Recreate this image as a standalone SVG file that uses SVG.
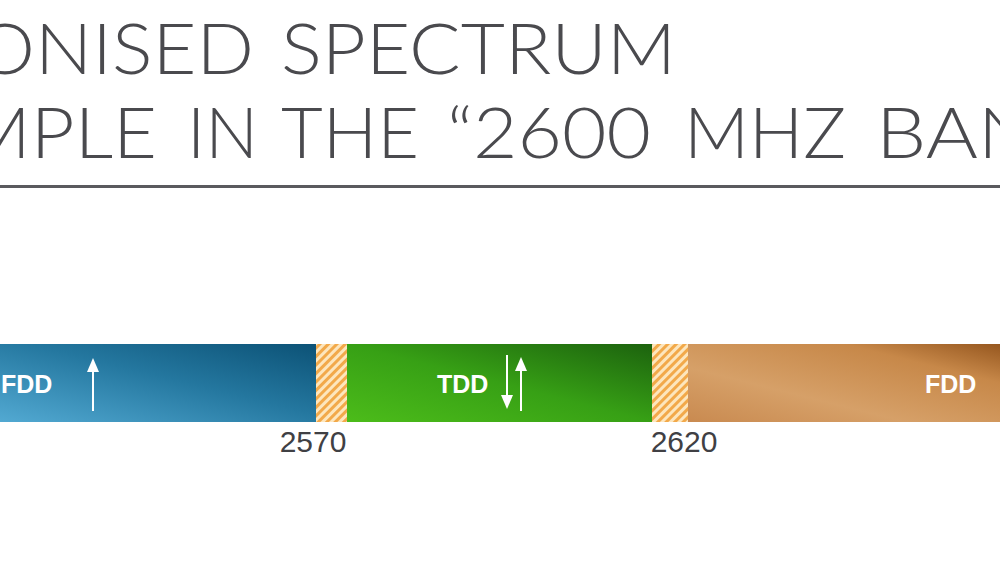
<svg xmlns="http://www.w3.org/2000/svg" width="1000" height="563" viewBox="0 0 1000 563">
  <style>
    .title { font-family: "Lato", "Liberation Sans", sans-serif; font-weight: 300; font-size: 70px; fill: #4a4a4e; }
    .lbl { font-family: "Liberation Sans", Arial, sans-serif; font-weight: bold; font-size: 25px; fill: #ffffff; }
    .freq { font-family: "Liberation Sans", Arial, sans-serif; font-size: 30px; fill: #404044; }
    .arr { stroke: #ffffff; stroke-width: 2; fill: none; }
  </style>
  <defs>
    <linearGradient id="gBlue" x1="0" y1="1" x2="1" y2="0">
      <stop offset="0" stop-color="#52a9d2"/>
      <stop offset="0.55" stop-color="#24779f"/>
      <stop offset="1" stop-color="#0c5276"/>
    </linearGradient>
    <linearGradient id="gGreen" x1="0" y1="1" x2="1" y2="0">
      <stop offset="0" stop-color="#4cbc1a"/>
      <stop offset="0.5" stop-color="#37a015"/>
      <stop offset="1" stop-color="#1c620e"/>
    </linearGradient>
    <linearGradient id="gBrown" x1="0" y1="1" x2="1" y2="0">
      <stop offset="0" stop-color="#c98a50"/>
      <stop offset="0.35" stop-color="#d6a068"/>
      <stop offset="0.75" stop-color="#c78849"/>
      <stop offset="1" stop-color="#96571f"/>
    </linearGradient>
    <pattern id="hatch" patternUnits="userSpaceOnUse" width="6" height="6" patternTransform="rotate(45)">
      <rect width="6" height="6" fill="#fde6bd"/>
      <rect width="3" height="6" fill="#f2a94a"/>
    </pattern>
    <marker id="ah" markerWidth="14" markerHeight="14" refX="2" refY="6" orient="auto" markerUnits="userSpaceOnUse" viewBox="0 0 14 12">
      <path d="M0,0 L14,6 L0,12 z" fill="#ffffff"/>
    </marker>
  </defs>

  <rect width="1000" height="563" fill="#ffffff"/>

  <g id="title">
    <text class="title" x="-25" y="74" textLength="279" lengthAdjust="spacingAndGlyphs">ONISED</text>
    <text class="title" x="281" y="74" textLength="395" lengthAdjust="spacingAndGlyphs">SPECTRUM</text>
    <text class="title" x="-38" y="158" textLength="195" lengthAdjust="spacingAndGlyphs">MPLE</text>
    <text class="title" x="187" y="158" textLength="71" lengthAdjust="spacingAndGlyphs">IN</text>
    <text class="title" x="281" y="158" textLength="138" lengthAdjust="spacingAndGlyphs">THE</text>
    <text class="title" x="447" y="158" textLength="204" lengthAdjust="spacingAndGlyphs">“2600</text>
    <text class="title" x="684" y="158" textLength="162" lengthAdjust="spacingAndGlyphs">MHZ</text>
    <text class="title" x="876" y="158" textLength="162" lengthAdjust="spacingAndGlyphs">BAN</text>
    <rect x="0" y="185" width="1000" height="3" fill="#5a5a5e"/>
  </g>

  <g id="band-fdd-up">
    <rect x="0" y="344" width="316" height="78" fill="url(#gBlue)"/>
    <text class="lbl" x="1" y="393">FDD</text>
    <line class="arr" x1="93" y1="411" x2="93" y2="370" marker-end="url(#ah)"/>
  </g>
  <g id="guard-1">
    <rect x="316" y="344" width="31" height="78" fill="url(#hatch)"/>
  </g>
  <g id="band-tdd">
    <rect x="347" y="344" width="305" height="78" fill="url(#gGreen)"/>
    <text class="lbl" x="437" y="393">TDD</text>
    <line class="arr" x1="507" y1="355" x2="507" y2="397" marker-end="url(#ah)"/>
    <line class="arr" x1="521" y1="411" x2="521" y2="369" marker-end="url(#ah)"/>
  </g>
  <g id="guard-2">
    <rect x="652" y="344" width="36" height="78" fill="url(#hatch)"/>
  </g>
  <g id="band-fdd-down">
    <rect x="688" y="344" width="312" height="78" fill="url(#gBrown)"/>
    <text class="lbl" x="925" y="393">FDD</text>
  </g>

  <g id="freq-labels">
    <text class="freq" x="313" y="452" text-anchor="middle">2570</text>
    <text class="freq" x="684" y="452" text-anchor="middle">2620</text>
  </g>
</svg>
